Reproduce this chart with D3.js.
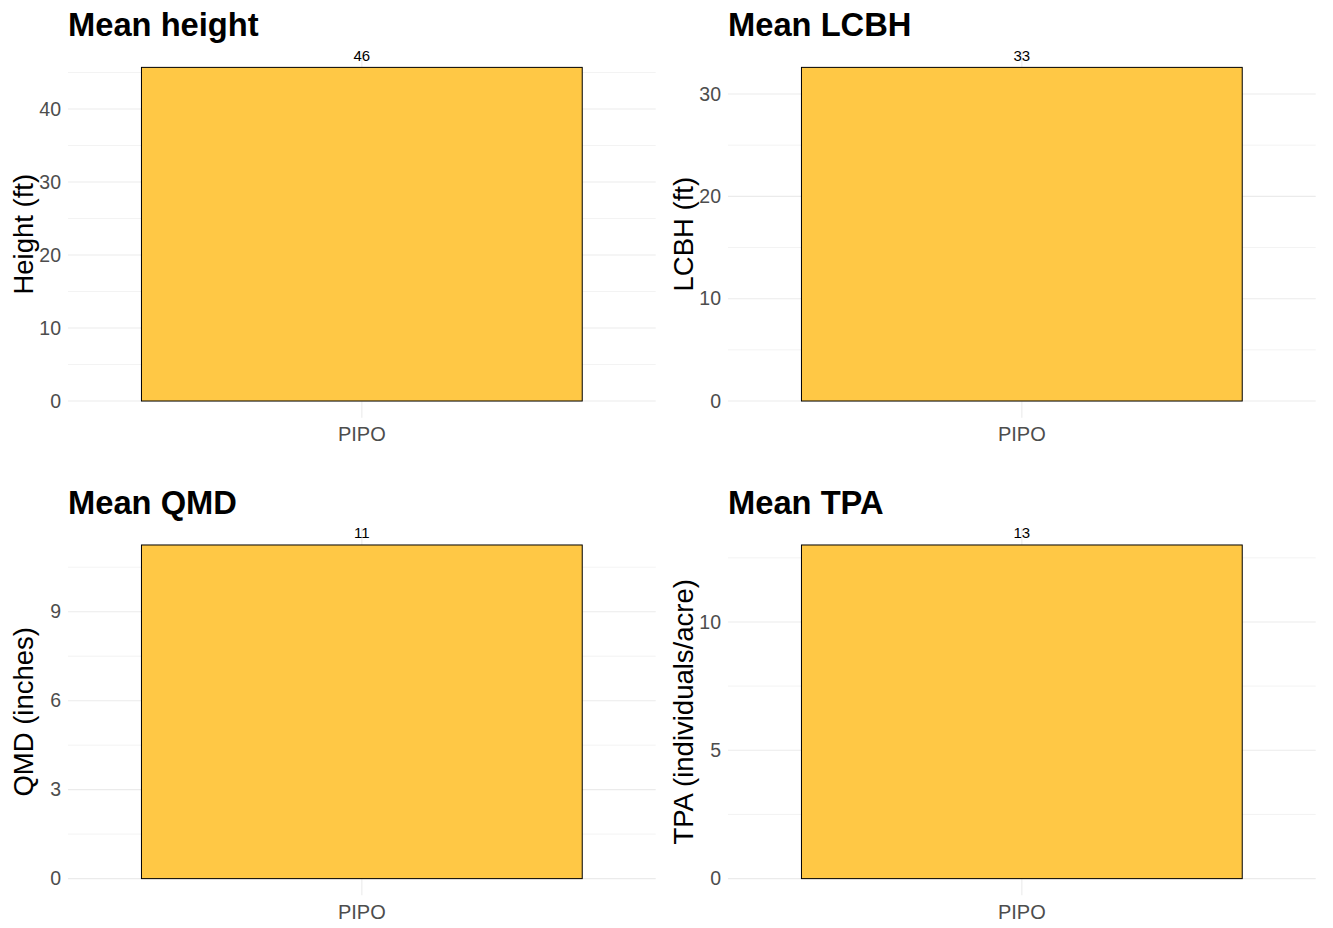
<!DOCTYPE html>
<html>
<head>
<meta charset="utf-8">
<script src="https://cdn.jsdelivr.net/npm/d3@7"></script>
<style>
  html, body { margin: 0; padding: 0; background: #ffffff; }
  svg { display: block; font-family: "Liberation Sans", Arial, Helvetica, sans-serif; }
</style>
</head>
<body>
<svg id="chart" width="1333" height="928"></svg>
<script>
// ---- data ----
const categories = ["PIPO"];
const heightValues = [45.7];
const lcbhValues = [32.6];
const qmdValues = [11.25];
const tpaValues = [13.0];

const panelTitles = ["Mean height", "Mean LCBH", "Mean QMD", "Mean TPA"];
const yAxisTitles = ["Height (ft)", "LCBH (ft)", "QMD (inches)", "TPA (individuals/acre)"];
const heightTicks = [0, 10, 20, 30, 40];
const lcbhTicks = [0, 10, 20, 30];
const qmdTicks = [0, 3, 6, 9];
const tpaTicks = [0, 5, 10];

const panelValues = [heightValues, lcbhValues, qmdValues, tpaValues];
const panelTicks = [heightTicks, lcbhTicks, qmdTicks, tpaTicks];

// ---- layout ----
const svg = d3.select("#chart");
const colX = [68, 728];
const rowY = [50.7, 528.3];
const panelW = 587.7;
const panelH = 367;
const fillColor = "#FFC845";
const gridColor = "#EBEBEB";

panelValues.forEach((vals, i) => {
  const x0 = colX[i % 2];
  const y0 = rowY[Math.floor(i / 2)];
  const g = svg.append("g");

  const vmax = d3.max(vals);
  const y = d3.scaleLinear()
    .domain([-0.05 * vmax, 1.05 * vmax])
    .range([y0 + panelH, y0]);
  const x = d3.scaleBand()
    .domain(categories)
    .range([x0, x0 + panelW])
    .paddingInner(0.1)
    .paddingOuter(0.15);

  const ticks = panelTicks[i];
  const step = ticks[1] - ticks[0];
  const minor = [];
  for (let t = ticks[0] - step / 2; t <= y.domain()[1]; t += step) {
    if (t >= y.domain()[0]) minor.push(t);
  }

  // minor gridlines
  g.selectAll(".minor").data(minor).enter().append("line")
    .attr("x1", x0).attr("x2", x0 + panelW)
    .attr("y1", d => y(d)).attr("y2", d => y(d))
    .attr("stroke", gridColor).attr("stroke-width", 0.6);
  // major gridlines
  g.selectAll(".major").data(ticks).enter().append("line")
    .attr("x1", x0).attr("x2", x0 + panelW)
    .attr("y1", d => y(d)).attr("y2", d => y(d))
    .attr("stroke", gridColor).attr("stroke-width", 1.1);
  // vertical gridline
  g.selectAll(".vgrid").data(categories).enter().append("line")
    .attr("x1", d => x(d) + x.bandwidth() / 2).attr("x2", d => x(d) + x.bandwidth() / 2)
    .attr("y1", y0).attr("y2", y0 + panelH)
    .attr("stroke", gridColor).attr("stroke-width", 1.1);

  // bars
  g.selectAll(".bar").data(vals).enter().append("rect")
    .attr("x", (d, j) => x(categories[j]))
    .attr("width", x.bandwidth())
    .attr("y", d => y(d))
    .attr("height", d => y(0) - y(d))
    .attr("fill", fillColor)
    .attr("stroke", "#000000")
    .attr("stroke-width", 1);

  // value labels
  g.selectAll(".lbl").data(vals).enter().append("text")
    .attr("x", (d, j) => x(categories[j]) + x.bandwidth() / 2)
    .attr("y", d => y(d) - 6.5)
    .attr("text-anchor", "middle")
    .attr("font-size", 15)
    .attr("fill", "#000")
    .text(d => Math.round(d));

  // y axis
  const ya = g.append("g")
    .attr("transform", `translate(${x0},0)`)
    .call(d3.axisLeft(y).tickValues(ticks).tickSize(0).tickPadding(7).tickFormat(d3.format("d")));
  ya.select(".domain").remove();
  ya.selectAll("text").attr("font-size", 19.5).attr("fill", "#4D4D4D")
    .attr("font-family", "'Liberation Sans', Arial, sans-serif");

  // x axis
  const xa = g.append("g")
    .attr("transform", `translate(0,${y0 + panelH})`)
    .call(d3.axisBottom(x).tickSize(0).tickPadding(9.5));
  xa.select(".domain").remove();
  xa.selectAll("text").attr("font-size", 20).attr("fill", "#4D4D4D")
    .attr("font-family", "'Liberation Sans', Arial, sans-serif");

  // y axis title
  g.append("text")
    .attr("transform", `translate(${x0 - 35.5},${y0 + panelH / 2}) rotate(-90)`)
    .attr("text-anchor", "middle")
    .attr("font-size", 27.5)
    .attr("fill", "#000")
    .text(yAxisTitles[i]);

  // panel title
  g.append("text")
    .attr("x", x0)
    .attr("y", y0 - 14.5)
    .attr("font-size", 32.7)
    .attr("font-weight", "bold")
    .attr("fill", "#000")
    .text(panelTitles[i]);
});
</script>
</body>
</html>
